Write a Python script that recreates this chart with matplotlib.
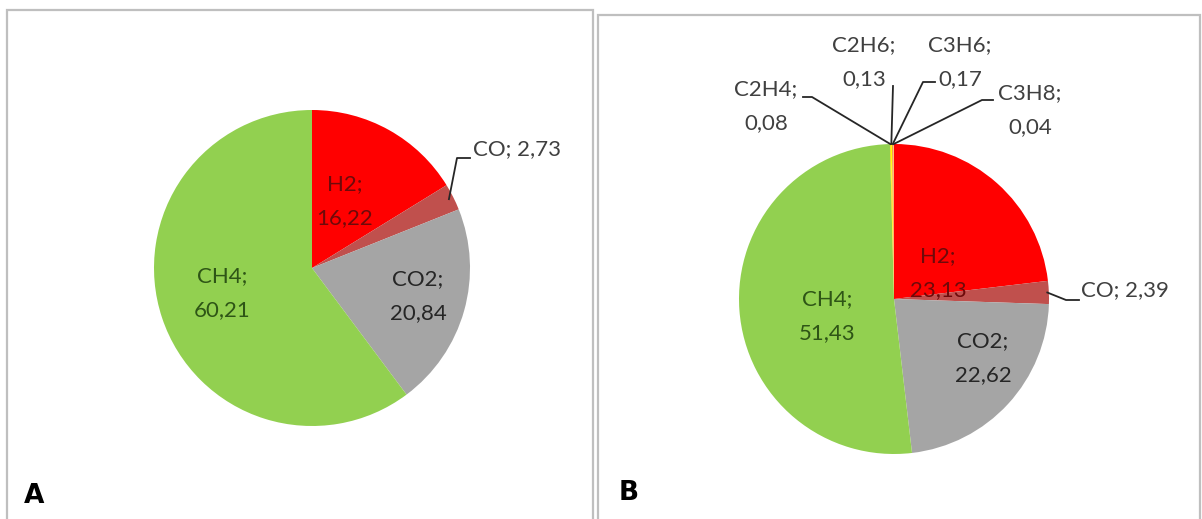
import numpy as np
import matplotlib
matplotlib.use("Agg")
from matplotlib import pyplot as plt
from matplotlib.patches import Rectangle

# panel A
gases_a = ["H2", "CO", "CO2", "CH4"]
values_a = [16.22, 2.73, 20.84, 60.21]
colors_a = ["#FF0000", "#C0504D", "#A5A5A5", "#92D050"]

# panel B
gases_b = ["H2", "CO", "CO2", "CH4", "C2H4", "C2H6", "C3H6", "C3H8"]
values_b = [23.13, 2.39, 22.62, 51.43, 0.08, 0.13, 0.17, 0.04]
colors_b = ["#FF0000", "#C0504D", "#A5A5A5", "#92D050", "#FFC000", "#FFFF00", "#F79646", "#FFD966"]

W, H = 1202, 519
plt.rcParams["font.family"] = ["Lato", "DejaVu Sans"]

fig = plt.figure(figsize=(W / 100, H / 100), dpi=100)
ax = fig.add_axes([0, 0, 1, 1])


def px(x, y):
    # picture pixel (y down) -> data coords (y up)
    return x, H - y


def fmt(v):
    return f"{v:.2f}".replace(".", ",")


def edge_point(values, idx, center, r, frac=1.0):
    cum = np.cumsum([0] + list(values))
    tot = cum[-1]
    mid = 90 - 360 * (cum[idx] + cum[idx + 1]) / 2 / tot
    t = np.radians(mid)
    return center[0] + frac * r * np.cos(t), center[1] + frac * r * np.sin(t)


# panel frames
ax.add_patch(Rectangle(px(7, 600), 586, 590, fill=False, ec="#BFBFBF", lw=1.6))
ax.add_patch(Rectangle(px(598, 600), 602, 585, fill=False, ec="#BFBFBF", lw=1.6))

center_a = px(312, 268)
r_a = 158
center_b = px(894, 299)
r_b = 155

ax.pie(values_a, colors=colors_a, startangle=90, counterclock=False,
       center=center_a, radius=r_a, wedgeprops=dict(linewidth=0))
ax.pie(values_b, colors=colors_b, startangle=90, counterclock=False,
       center=center_b, radius=r_b, wedgeprops=dict(linewidth=0))

fs = 16
ls = 1.9
inside_colors = {"H2": "#6E0A0A", "CO2": "#262626", "CH4": "#2E5516"}

# inside labels (picture pixel positions)
inside_a = {"H2": (345, 201), "CO2": (418, 296), "CH4": (222, 293)}
inside_b = {"H2": (938, 273), "CO2": (983, 358), "CH4": (827, 316)}
for gases, values, pos in [(gases_a, values_a, inside_a), (gases_b, values_b, inside_b)]:
    for g, v in zip(gases, values):
        if g in pos:
            ax.text(*px(*pos[g]), f"{g};\n{fmt(v)}", ha="center", va="center",
                    fontsize=fs, color=inside_colors[g], linespacing=ls)

lead = dict(color="#262626", lw=1.3)
out_col = "#404040"

# CO labels with leaders
x0, y0 = edge_point(values_a, 1, center_a, r_a, 0.97)
ax.plot([x0, px(457, 158)[0], px(470, 158)[0]], [y0, px(457, 158)[1], px(470, 158)[1]], **lead)
ax.text(*px(473, 149), f"CO; {fmt(values_a[1])}", ha="left", va="center", fontsize=fs, color=out_col)

x0, y0 = edge_point(values_b, 1, center_b, r_b, 0.99)
ax.plot([x0, px(1066, 300)[0], px(1079, 300)[0]], [y0, px(1066, 300)[1], px(1079, 300)[1]], **lead)
ax.text(*px(1081, 290), f"CO; {fmt(values_b[1])}", ha="left", va="center", fontsize=fs, color=out_col)

# small slices at the top of B
small = {
    "C2H4": ((766, 106), [(803, 97), (812, 97)]),
    "C2H6": ((864, 62), [(893, 86)]),
    "C3H6": ((960, 62), [(935, 82), (923, 82)]),
    "C3H8": ((1030, 110), [(993, 100), (982, 100)]),
}
for i, g in enumerate(gases_b):
    if g not in small:
        continue
    tpos, pts = small[g]
    x0, y0 = edge_point(values_b, i, center_b, r_b)
    xs = [px(*p)[0] for p in pts] + [x0]
    ys = [px(*p)[1] for p in pts] + [y0]
    ax.plot(xs, ys, **lead)
    ax.text(*px(*tpos), f"{g};\n{fmt(values_b[i])}", ha="center", va="center",
            fontsize=fs, color=out_col, linespacing=ls)

# panel letters
ax.text(*px(24, 496), "A", ha="left", va="center", fontsize=19, fontweight="bold",
        color="black", family="DejaVu Sans")
ax.text(*px(619, 493), "B", ha="left", va="center", fontsize=19, fontweight="bold",
        color="black", family="DejaVu Sans")

ax.set_xlim(0, W)
ax.set_ylim(0, H)
ax.set_aspect("equal")
ax.axis("off")

fig.savefig("out.png", dpi=100, facecolor="white")
